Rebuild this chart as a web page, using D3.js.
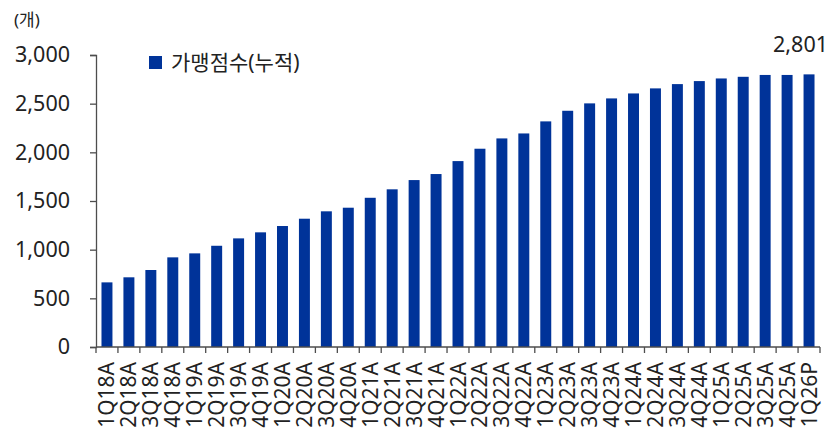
<!DOCTYPE html>
<html>
<head>
<meta charset="utf-8">
<script src="https://cdn.jsdelivr.net/npm/d3@7/dist/d3.min.js"></script>
<style>
  html, body { margin: 0; padding: 0; background: #fff; }
  svg { display: block; }
  text { font-family: "Noto Sans", "Noto Sans CJK KR", sans-serif; fill: #222; }
</style>
</head>
<body>
<div id="chart"></div>
<script>
// Quarterly cumulative franchise store count
const quarters = [
  "1Q18A","2Q18A","3Q18A","4Q18A",
  "1Q19A","2Q19A","3Q19A","4Q19A",
  "1Q20A","2Q20A","3Q20A","4Q20A",
  "1Q21A","2Q21A","3Q21A","4Q21A",
  "1Q22A","2Q22A","3Q22A","4Q22A",
  "1Q23A","2Q23A","3Q23A","4Q23A",
  "1Q24A","2Q24A","3Q24A","4Q24A",
  "1Q25A","2Q25A","3Q25A","4Q25A",
  "1Q26P"
];
const storeCounts = [
  664, 716, 791, 921,
  962, 1040, 1116, 1178,
  1243, 1318, 1394, 1431,
  1533, 1620, 1715, 1777,
  1910, 2037, 2143, 2194,
  2318, 2427, 2503, 2554,
  2605, 2657, 2701, 2732,
  2759, 2776, 2795, 2795,
  2801
];
const yTicks = [0, 500, 1000, 1500, 2000, 2500, 3000];
const seriesName = "가맹점수(누적)";
const unitLabel = "(개)";

const W = 835, H = 434;
const m = { left: 96, right: 15, top: 55, bottom: 87 };
const innerW = W - m.left - m.right;
const innerH = H - m.top - m.bottom;
const barColor = "#003399";
const axisColor = "#4d4d4d";
const fontStack = "'Noto Sans', 'Noto Sans CJK KR', sans-serif";

const svg = d3.select("#chart").append("svg")
  .attr("width", W).attr("height", H);

const x = d3.scaleBand().domain(quarters).range([m.left, m.left + innerW]).padding(0);
const y = d3.scaleLinear().domain([0, 3000]).range([m.top + innerH, m.top]);

// Bars
const barFrac = 0.5;
svg.append("g").selectAll("rect")
  .data(quarters)
  .join("rect")
  .attr("x", (d) => x(d) + x.bandwidth() * (1 - barFrac) / 2)
  .attr("width", x.bandwidth() * barFrac)
  .attr("y", (d, i) => y(storeCounts[i]))
  .attr("height", (d, i) => y(0) - y(storeCounts[i]))
  .attr("fill", barColor);

// Y axis
const yAxis = svg.append("g")
  .attr("transform", `translate(${m.left},0)`)
  .call(d3.axisLeft(y).tickValues(yTicks).tickSize(6).tickPadding(20)
    .tickFormat(d3.format(",")));
yAxis.select(".domain").attr("stroke", axisColor).attr("stroke-width", 1.3);
yAxis.selectAll(".tick line").attr("stroke", axisColor).attr("stroke-width", 1.3);
yAxis.selectAll(".tick text")
  .style("font-size", "21.5px")
  .style("font-family", fontStack)
  .attr("fill", "#222");

// X axis: baseline, tick marks between categories, rotated labels
const baseY = y(0);
svg.append("line")
  .attr("x1", m.left).attr("x2", m.left + innerW)
  .attr("y1", baseY).attr("y2", baseY)
  .attr("stroke", axisColor).attr("stroke-width", 1.3);
const bounds = quarters.map((q) => x(q)).concat([x(quarters[quarters.length - 1]) + x.bandwidth()]);
svg.append("g").selectAll("line")
  .data(bounds)
  .join("line")
  .attr("x1", (d) => d).attr("x2", (d) => d)
  .attr("y1", baseY).attr("y2", baseY + 6)
  .attr("stroke", axisColor).attr("stroke-width", 1.3);

svg.append("g").selectAll("text")
  .data(quarters)
  .join("text")
  .attr("transform", (d) => `translate(${x(d) + x.bandwidth() / 2 + 7.5},${baseY + 15}) rotate(-90)`)
  .attr("text-anchor", "end")
  .style("font-size", "21px")
  .text((d) => d);

// Unit label
svg.append("text")
  .attr("x", 14).attr("y", 26)
  .style("font-size", "17px")
  .attr("fill", "#333")
  .text(unitLabel);

// Legend
svg.append("rect")
  .attr("x", 149).attr("y", 56).attr("width", 13).attr("height", 13)
  .attr("fill", barColor);
svg.append("text")
  .attr("x", 171).attr("y", 70)
  .style("font-size", "21px")
  .text(seriesName);

// Value label on the last bar
const lastIdx = quarters.length - 1;
svg.append("text")
  .attr("x", x(quarters[lastIdx]) + x.bandwidth() + 8)
  .attr("y", y(storeCounts[lastIdx]) - 22)
  .attr("text-anchor", "end")
  .style("font-size", "21.5px")
  .text(d3.format(",")(storeCounts[lastIdx]));
</script>
</body>
</html>
